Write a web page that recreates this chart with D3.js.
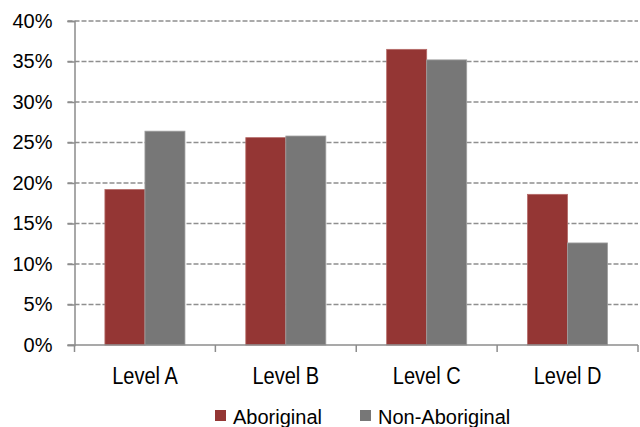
<!DOCTYPE html>
<html>
<head>
<meta charset="utf-8">
<script src="https://cdn.jsdelivr.net/npm/d3@7"></script>
<style>
  html, body { margin: 0; padding: 0; background: #fff; }
  svg { display: block; font-family: "Liberation Sans", Arial, sans-serif; }
</style>
</head>
<body>
<svg id="chart" width="640" height="427"></svg>
<script>
// Share of students at each level, by group (percent)
const levels = ["Level A", "Level B", "Level C", "Level D"];
const seriesNames = ["Aboriginal", "Non-Aboriginal"];
const aboriginal = [19.2, 25.6, 36.5, 18.6];
const nonAboriginal = [26.4, 25.8, 35.2, 12.6];
const yTicks = [0, 5, 10, 15, 20, 25, 30, 35, 40];
const colors = ["#943634", "#777777"];

const svg = d3.select("#chart");
const margin = { left: 74.5, right: 2, top: 21, bottom: 82 };
const W = 640, H = 427;
const x0 = margin.left, x1 = W - margin.right;
const yTop = margin.top, yBot = H - margin.bottom;

const x = d3.scaleBand().domain(levels).range([x0, x1]).paddingInner(0).paddingOuter(0);
const xs = d3.scaleBand().domain(seriesNames).range([0, x.bandwidth()]).paddingInner(0).paddingOuter(0.76);
const y = d3.scaleLinear().domain([0, 40]).range([yBot, yTop]);

const axisColor = "#8c8c8c";

// dashed gridlines
svg.append("g").selectAll("line")
  .data(yTicks.filter(t => t > 0))
  .join("line")
  .attr("x1", x0 - 7).attr("x2", x1)
  .attr("y1", d => y(d)).attr("y2", d => y(d))
  .attr("stroke", "#8f8f8f")
  .attr("stroke-width", 1.5)
  .attr("stroke-dasharray", "5,2");

// bars
const data = levels.map((l, i) => ({ level: l, values: [aboriginal[i], nonAboriginal[i]] }));
const groups = svg.append("g").selectAll("g")
  .data(data)
  .join("g")
  .attr("transform", d => `translate(${x(d.level)},0)`);
groups.selectAll("rect")
  .data(d => d.values.map((v, j) => ({ name: seriesNames[j], v, j })))
  .join("rect")
  .attr("x", d => xs(d.name))
  .attr("width", xs.bandwidth())
  .attr("y", d => y(d.v))
  .attr("height", d => y(0) - y(d.v))
  .attr("fill", d => colors[d.j])
  .attr("stroke", d => d.j === 0 ? "#b56a68" : "#a0a0a0")
  .attr("stroke-width", 0.8);

// y axis
const yAxis = svg.append("g")
  .attr("transform", `translate(${x0},0)`)
  .call(d3.axisLeft(y).tickValues(yTicks).tickFormat(d => d + "%").tickSize(7).tickPadding(15));
yAxis.select(".domain").attr("stroke", axisColor).attr("stroke-width", 1.5);
yAxis.selectAll(".tick line").attr("stroke", axisColor).attr("stroke-width", 1.5);
yAxis.selectAll("text").attr("font-size", 20).attr("fill", "#000")
  .attr("font-family", "Liberation Sans, Arial, sans-serif");

// x axis with ticks at category boundaries
const xAxisG = svg.append("g").attr("transform", `translate(0,${yBot})`);
xAxisG.append("line")
  .attr("x1", x0 - 7).attr("x2", x1)
  .attr("stroke", axisColor).attr("stroke-width", 1.5);
const bounds = levels.map(l => x(l)).concat([x1]);
xAxisG.selectAll("line.tk")
  .data(bounds)
  .join("line")
  .attr("class", "tk")
  .attr("x1", d => d).attr("x2", d => d)
  .attr("y1", 0).attr("y2", 7)
  .attr("stroke", axisColor).attr("stroke-width", 1.5);
xAxisG.selectAll("text")
  .data(levels)
  .join("text")
  .attr("transform", d => `translate(${x(d) + x.bandwidth() / 2},38.5) scale(0.87,1)`)
  .attr("text-anchor", "middle")
  .attr("font-size", 23)
  .text(d => d);

// legend
const legend = svg.append("g");
const legendX = [215, 360];
seriesNames.forEach((n, i) => {
  legend.append("rect")
    .attr("x", legendX[i]).attr("y", 410)
    .attr("width", 11).attr("height", 11)
    .attr("fill", colors[i]);
  legend.append("text")
    .attr("x", legendX[i] + 18).attr("y", 424)
    .attr("font-size", 20)
    .text(n);
});
</script>
</body>
</html>
